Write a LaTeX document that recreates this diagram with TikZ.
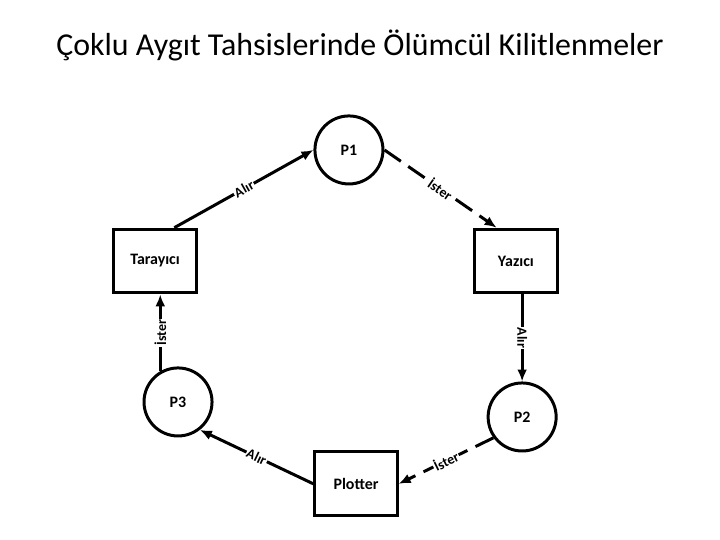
\documentclass[tikz,border=0pt]{standalone}
\usepackage{fontspec}
\setmainfont{Carlito}
\usetikzlibrary{arrows.meta,positioning}
\tikzset{
  proc/.style={circle, draw=black, line width=3pt, minimum size=2.4cm, font=\fontsize{16}{19}\selectfont\bfseries},
  res/.style={rectangle, draw=black, line width=3pt, minimum width=2.9cm, minimum height=2.25cm, font=\fontsize{16}{19}\selectfont\bfseries},
  conn/.style={line width=3pt, -{Latex[length=12pt,width=10pt]}},
  req/.style={conn, dash pattern=on 20pt off 9pt},
  edgelbl/.style={fill=white, inner sep=1pt, sloped, font=\fontsize{14}{17}\selectfont\bfseries}
}
\begin{document}
\begin{tikzpicture}
  \useasboundingbox (0,0) rectangle (25.4,19.05);
  \node (title) at (12.70,17.46) {\fontsize{32}{38}\selectfont Çoklu Aygıt Tahsislerinde Ölümcül Kilitlenmeler};

  % processes
  \node[proc] (p1) at (12.31,13.76) {P1};
  \node[proc] (p2) at (18.42,4.34) {P2};
  \node[proc] (p3) at (6.28,4.87) {P3};

  % devices
  \node[res] (tar) at (5.47,9.84) {Tarayıcı};
  \node[res] (yaz) at (18.20,9.84) {Yazıcı};
  \node[res] (plot) at (12.56,1.98) {Plotter};

  % allocation / request edges
  \draw[conn] (tar.60) -- node[edgelbl] {Alır} (p1.west);
  \draw[req] (p1.east) -- node[edgelbl] {İster} (yaz.120);
  \draw[conn] (p2.north |- yaz.south) -- node[edgelbl] {Alır} (p2.north);
  \draw[req] (p2.216) -- node[edgelbl] {İster} (plot.east);
  \draw[conn] (plot.west) -- node[edgelbl] {Alır} (p3.-52);
  \draw[conn] (p3.120) -- node[edgelbl] {İster} (p3.120 |- tar.south);
\end{tikzpicture}
\end{document}
